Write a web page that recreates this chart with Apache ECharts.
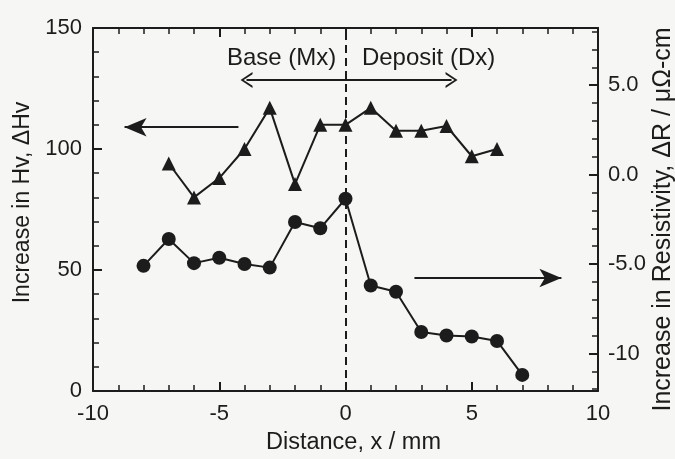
<!DOCTYPE html>
<html>
<head>
<meta charset="utf-8">
<script src="https://cdn.jsdelivr.net/npm/echarts@6/dist/echarts.min.js"></script>
<style>
  html, body { margin: 0; padding: 0; background: #f6f6f4; }
  #chart { width: 675px; height: 459px; }
</style>
</head>
<body>
<div id="chart"></div>
<script>
// hardness (left axis) - triangles
var hvX = [-7, -6, -5, -4, -3, -2, -1, 0, 1, 2, 3, 4, 5, 6];
var hvY = [94, 80, 88, 100, 117, 85.5, 110, 110, 117, 107.5, 107.5, 109.5, 97, 100];

// resistivity (right axis) - circles
var resX = [-8, -7, -6, -5, -4, -3, -2, -1, 0, 1, 2, 3, 4, 5, 6, 7];
var resY = [-5.1, -3.6, -4.95, -4.65, -5.0, -5.2, -2.65, -3.0, -1.35, -6.2, -6.55, -8.8, -9.0, -9.05, -9.3, -11.2];

// axis ticks
var resMajor = [-10, -5, 0, 5];
var resMinor = [-12, -11, -10, -9, -8, -7, -6, -5, -4, -3, -2, -1, 0, 1, 2, 3, 4, 5, 6, 7, 8];

// annotation arrows, in (distance, Hv) coords
var arrowLeft = [[-4.24, 109], [-8.75, 109]];
var arrowRight = [[2.73, 46.7], [8.55, 46.7]];
var arrowBoth = [[-3.92, 128.5], [4.2, 128.5]];
var regionLabels = [
	{ name: 'Base (Mx)', coord: [-2.53, 137.6] },
	{ name: 'Deposit (Dx)', coord: [3.29, 137.6] }
];

var ink = '#1c1c1c';
var font = 'Liberation Sans';
var fs = 22;

function zip(xs, ys) {
	var out = [];
	for (var i = 0; i < xs.length; i++) out.push([xs[i], ys[i]]);
	return out;
}

var chevron = 'path://M5,0 L10,10 L8.6,10 L5,2.6 L1.4,10 L0,10 Z';

var xBase = {
	type: 'value', min: -10, max: 10, interval: 5,
	axisLine: { onZero: false, lineStyle: { color: ink, width: 2 } },
	axisTick: { inside: true, length: 9, lineStyle: { color: ink, width: 2 } },
	minorTick: { show: true, splitNumber: 5, length: 6, lineStyle: { color: ink, width: 1.5 } },
	splitLine: { show: false }
};

var myChart = echarts.init(document.getElementById('chart'));
var option = {
	backgroundColor: '#f6f6f4',
	animation: false,
	textStyle: { fontFamily: font, color: ink },
	grid: { left: 93, right: 77, top: 28, bottom: 68, containLabel: false, outerBoundsMode: 'none' },
	xAxis: [
		echarts.util.merge({
			position: 'bottom',
			name: 'Distance, x / mm',
			nameLocation: 'middle',
			nameGap: 40,
			nameTextStyle: { fontSize: 23.5, color: ink, fontFamily: font, padding: [0, 0, 0, 16] },
			axisLabel: { fontSize: fs, color: ink, margin: 12, fontFamily: font }
		}, xBase, true),
		echarts.util.merge({
			position: 'top',
			axisLabel: { show: false }
		}, xBase, true)
	],
	yAxis: [
		{
			type: 'value', min: 0, max: 150, interval: 50, position: 'left',
			name: 'Increase in Hv, ΔHv',
			nameLocation: 'middle',
			nameGap: 58,
			nameTextStyle: { fontSize: 23, color: ink, fontFamily: font, padding: [0, 0, 0, 14] },
			axisLine: { onZero: false, lineStyle: { color: ink, width: 2 } },
			axisTick: { inside: true, length: 9, lineStyle: { color: ink, width: 2 } },
			minorTick: { show: true, splitNumber: 5, length: 6, lineStyle: { color: ink, width: 1.5 } },
			axisLabel: { fontSize: fs, color: ink, margin: 11, fontFamily: font },
			splitLine: { show: false }
		},
		{
			type: 'value', min: -12.1, max: 8.2, position: 'right',
			name: 'Increase in Resistivity, ΔR / μΩ-cm',
			nameLocation: 'middle',
			nameGap: 53,
			nameMoveOverlap: false,
			nameRotate: 90,
			nameTextStyle: { fontSize: 25, color: ink, fontFamily: font, padding: [0, 20, 0, 0] },
			axisLine: { onZero: false, lineStyle: { color: ink, width: 2 } },
			axisTick: { inside: true, length: 9, customValues: resMajor, lineStyle: { color: ink, width: 2 } },
			axisLabel: {
				fontSize: fs, color: ink, margin: 10, fontFamily: font,
				customValues: resMajor,
				padding: [14, 0, 0, 0],
				formatter: function (v) { return v === -10 ? '-10' : v.toFixed(1); }
			},
			splitLine: { show: false }
		},
		{
			type: 'value', min: -12.1, max: 8.2, position: 'right',
			axisLine: { show: false, onZero: false },
			axisTick: { inside: true, length: 6, customValues: resMinor, lineStyle: { color: ink, width: 1.5 } },
			axisLabel: { show: false },
			splitLine: { show: false }
		}
	],
	series: [
		{
			name: 'Hv',
			type: 'line',
			xAxisIndex: 0,
			yAxisIndex: 0,
			data: zip(hvX, hvY),
			symbol: 'triangle',
			symbolSize: 14,
			itemStyle: { color: ink },
			lineStyle: { color: ink, width: 2 },
			z: 3,
			markLine: {
				silent: true,
				animation: false,
				symbol: ['none', 'none'],
				label: { show: false },
				data: [
					[{ coord: arrowLeft[0] }, { coord: arrowLeft[1], symbol: 'arrow', symbolSize: [14, 22] }],
					[{ coord: arrowRight[0] }, { coord: arrowRight[1], symbol: 'arrow', symbolSize: [14, 22] }],
					[{ coord: arrowBoth[0], symbol: chevron, symbolSize: [16, 12] }, { coord: arrowBoth[1], symbol: chevron, symbolSize: [16, 12] }],
					{ xAxis: 0, lineStyle: { type: [8, 5], width: 2 } }
				],
				lineStyle: { color: ink, width: 2, type: 'solid' }
			},
			markPoint: {
				silent: true,
				symbol: 'circle',
				symbolSize: 0,
				label: { show: true, position: 'inside', fontSize: 24, color: ink, fontFamily: font, formatter: '{b}' },
				data: regionLabels
			}
		},
		{
			name: 'Resistivity',
			type: 'line',
			xAxisIndex: 0,
			yAxisIndex: 1,
			data: zip(resX, resY),
			symbol: 'circle',
			symbolSize: 14,
			itemStyle: { color: ink },
			lineStyle: { color: ink, width: 2 },
			z: 3
		}
	]
};
myChart.setOption(option);
</script>
</body>
</html>
